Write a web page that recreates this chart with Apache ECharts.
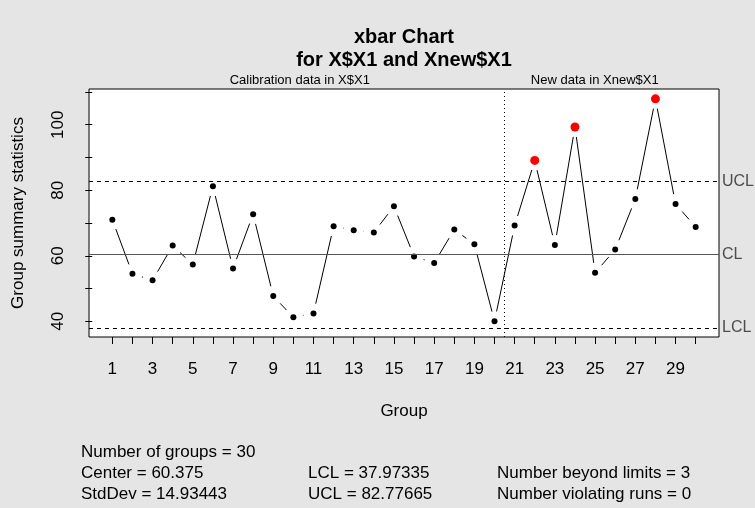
<!DOCTYPE html>
<html>
<head>
<meta charset="utf-8">
<title>xbar Chart</title>
<script src="https://cdn.jsdelivr.net/npm/echarts@6/dist/echarts.min.js"></script>
<style>
  html, body { margin: 0; padding: 0; background: #e5e5e5; }
  #chart { width: 755px; height: 508px; }
</style>
</head>
<body>
<div id="chart"></div>
<script>
// Group means: calibration sample (groups 1-20) and new sample (groups 21-30)
const calibrationMeans = [71.0, 54.5, 52.5, 63.1, 57.3, 81.2, 56.1, 72.7, 47.7, 41.2,
                          42.4, 69.0, 67.8, 67.1, 75.1, 59.8, 57.8, 68.0, 63.5, 40.0];
const newMeans = [69.2, 89.1, 63.3, 99.3, 54.8, 61.9, 77.3, 107.9, 75.8, 68.8];

// Control limits
const centerLine = 60.375;
const lowerLimit = 37.97335;
const upperLimit = 82.77665;
const limitNames = ['UCL', 'CL', 'LCL'];

// Axis ticks and labels
const groupTicks = Array.from({ length: 30 }, (_, i) => i + 1);
const groupLabels = [1, 3, 5, 7, 9, 11, 13, 15, 17, 19, 21, 23, 25, 27, 29];
const statTicks = [40, 50, 60, 70, 80, 90, 100, 110];
const statLabels = [40, 60, 80, 100];

// Texts
const titleLines = ['xbar Chart', 'for X$X1 and Xnew$X1'];
const phaseNames = ['Calibration data in X$X1', 'New data in Xnew$X1'];
const summaryCol1 = ['Number of groups = 30', 'Center = 60.375', 'StdDev = 14.93443'];
const summaryCol2 = ['LCL = 37.97335', 'UCL = 82.77665'];
const summaryCol3 = ['Number beyond limits = 3', 'Number violating runs = 0'];

const FONT = '"Liberation Sans", Arial, Helvetica, sans-serif';

const allMeans = calibrationMeans.concat(newMeans);
const points = allMeans.map((v, i) => [i + 1, v]);
const inside = points.filter(p => p[1] <= upperLimit && p[1] >= lowerLimit);
const beyond = points.filter(p => p[1] > upperLimit || p[1] < lowerLimit);
const segments = [];
for (let i = 0; i < points.length - 1; i++) {
  segments.push([points[i][0], points[i][1], points[i + 1][0], points[i + 1][1]]);
}
const splitAt = calibrationMeans.length + 0.5;

const chart = echarts.init(document.getElementById('chart'), null, { renderer: 'canvas' });

const GAP = 10; // blank space left around each point on the connecting lines

const limitLabel = { show: true, position: 'end', formatter: '{b}', distance: 3, color: '#4d4d4d', fontFamily: FONT, fontSize: 16 };

const option = {
  backgroundColor: '#e5e5e5',
  animation: false,
  grid: {
    left: 89, top: 89, width: 630, height: 248,
    show: true, backgroundColor: '#ffffff', borderColor: '#000000', borderWidth: 1
  },
  xAxis: {
    type: 'value', min: -0.16, max: 31.16,
    name: 'Group', nameLocation: 'middle', nameGap: 66,
    nameTextStyle: { fontFamily: FONT, fontSize: 17, color: '#000' },
    axisLine: { show: false },
    splitLine: { show: false },
    axisTick: { show: true, customValues: groupTicks, length: 7, lineStyle: { color: '#000' } },
    axisLabel: { customValues: groupLabels, fontFamily: FONT, fontSize: 17, color: '#000', margin: 24 }
  },
  yAxis: {
    type: 'value', min: 35.2, max: 110.9,
    name: 'Group summary statistics', nameLocation: 'middle', nameGap: 62, nameRotate: 90,
    nameTextStyle: { fontFamily: FONT, fontSize: 17, color: '#000' },
    axisLine: { show: false },
    splitLine: { show: false },
    axisTick: { show: true, customValues: statTicks, length: 7, lineStyle: { color: '#000' } },
    axisLabel: { customValues: statLabels, rotate: 90, fontFamily: FONT, fontSize: 17, color: '#000', margin: 22 }
  },
  series: [
    {
      type: 'custom',
      name: 'connections',
      data: segments,
      encode: { x: [0, 2], y: [1, 3] },
      silent: true,
      z: 2,
      renderItem: function (params, api) {
        const a = api.coord([api.value(0), api.value(1)]);
        const b = api.coord([api.value(2), api.value(3)]);
        const dx = b[0] - a[0], dy = b[1] - a[1];
        const d = Math.sqrt(dx * dx + dy * dy);
        if (d <= 2 * GAP) return null;
        const ux = dx / d, uy = dy / d;
        return {
          type: 'line',
          shape: {
            x1: a[0] + ux * GAP, y1: a[1] + uy * GAP,
            x2: b[0] - ux * GAP, y2: b[1] - uy * GAP
          },
          style: { stroke: '#000', lineWidth: 1 }
        };
      },
      markLine: {
        silent: true,
        symbol: 'none',
        animation: false,
        label: { show: false },
        data: [
          {
            yAxis: upperLimit, name: limitNames[0],
            lineStyle: { color: '#000', type: [4, 4], width: 1, opacity: 1 },
            label: limitLabel
          },
          {
            yAxis: centerLine, name: limitNames[1],
            lineStyle: { color: '#555555', type: 'solid', width: 1, opacity: 1 },
            label: limitLabel
          },
          {
            yAxis: lowerLimit, name: limitNames[2],
            lineStyle: { color: '#000', type: [4, 4], width: 1, opacity: 1 },
            label: limitLabel
          },
          {
            xAxis: splitAt,
            lineStyle: { color: '#000', type: [1, 3], width: 1, opacity: 1 },
            label: { show: false }
          }
        ]
      }
    },
    {
      type: 'scatter',
      name: 'in control',
      data: inside,
      symbol: 'circle',
      symbolSize: 6,
      itemStyle: { color: '#000000', opacity: 1 },
      z: 3
    },
    {
      type: 'scatter',
      name: 'beyond limits',
      data: beyond,
      symbol: 'circle',
      symbolSize: 9,
      itemStyle: { color: '#ff0000', opacity: 1 },
      z: 3
    }
  ]
};

chart.setOption(option);

// Titles, phase captions and summary text
const px = (x, y) => chart.convertToPixel({ gridIndex: 0 }, [x, y]);
const plotMid = (px(-0.16, 0)[0] + px(31.16, 0)[0]) / 2;
const calibMid = (px(-0.16, 0)[0] + px(splitAt, 0)[0]) / 2 + 3;
const newMid = (px(splitAt, 0)[0] + px(31.16, 0)[0]) / 2 - 17;

function txt(text, x, y, size, opts) {
  return {
    type: 'text', x: x, y: y, silent: true,
    style: {
      text: text, fill: '#000',
      font: (opts && opts.bold ? 'bold ' : '') + size + 'px ' + FONT,
      textAlign: (opts && opts.align) || 'left',
      textVerticalAlign: 'middle'
    }
  };
}

const graphics = [
  txt(titleLines[0], plotMid, 37, 20, { bold: true, align: 'center' }),
  txt(titleLines[1], plotMid, 60, 20, { bold: true, align: 'center' }),
  txt(phaseNames[0], calibMid, 80, 13, { align: 'center' }),
  txt(phaseNames[1], newMid, 80, 13, { align: 'center' })
];
const rowsY = [452, 473, 494];
summaryCol1.forEach((t, i) => graphics.push(txt(t, 81, rowsY[i], 17)));
summaryCol2.forEach((t, i) => graphics.push(txt(t, 308, rowsY[i + 1], 17)));
summaryCol3.forEach((t, i) => graphics.push(txt(t, 497, rowsY[i + 1], 17)));

chart.setOption({ graphic: graphics });
</script>
</body>
</html>
